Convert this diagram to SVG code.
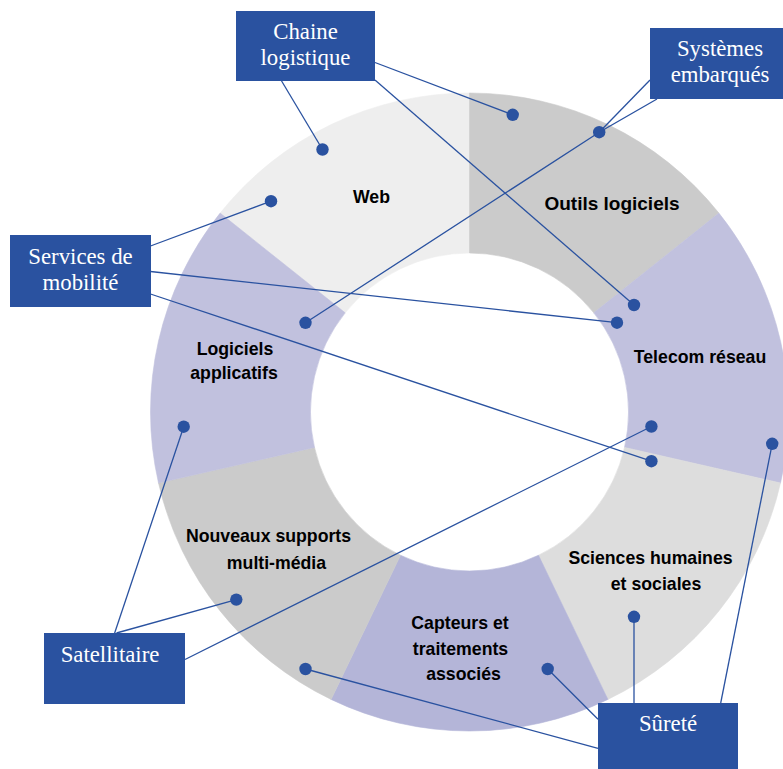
<svg xmlns="http://www.w3.org/2000/svg" width="783" height="769" viewBox="0 0 783 769">
  <style>
    .seg-label { font-family: "Liberation Sans", Arial, sans-serif; font-weight: bold; font-size: 17.7px; fill: #000; text-anchor: middle; }
    .box { fill: #2a52a0; }
    .box-label { font-family: "Liberation Serif", "Times New Roman", serif; font-size: 22.8px; fill: #ffffff; text-anchor: middle; }
    .link { stroke: #2a52a0; stroke-width: 1.3; fill: none; }
    .dot { fill: #2a52a0; }
  </style>
  <rect width="783" height="769" fill="#ffffff"/>

  <!-- Ring of seven sectors, centre (469.5,412), outer r 319, inner r 159 -->
  <g id="seg-web">
    <path d="M220.10,213.11 A319,319 0 0 1 469.5,93 L469.5,253 A159,159 0 0 0 345.19,312.87 Z" fill="#eeeeee" stroke="#eeeeee" stroke-width="0.6"/>
    <text class="seg-label" x="371.5" y="203">Web</text>
  </g>
  <g id="seg-outils">
    <path d="M469.5,93 A319,319 0 0 1 718.90,213.11 L593.81,312.87 A159,159 0 0 0 469.5,253 Z" fill="#cbcbcb" stroke="#cbcbcb" stroke-width="0.6"/>
    <text class="seg-label" x="612" y="210" style="font-size:19px">Outils logiciels</text>
  </g>
  <g id="seg-telecom">
    <path d="M718.90,213.11 A319,319 0 0 1 780.50,482.98 L624.51,447.38 A159,159 0 0 0 593.81,312.87 Z" fill="#c1c1de" stroke="#c1c1de" stroke-width="0.6"/>
    <text class="seg-label" x="700" y="363">Telecom réseau</text>
  </g>
  <g id="seg-sciences">
    <path d="M780.50,482.98 A319,319 0 0 1 607.91,699.41 L538.49,555.25 A159,159 0 0 0 624.51,447.38 Z" fill="#dddddd" stroke="#dddddd" stroke-width="0.6"/>
    <text class="seg-label" x="650.5" y="564">Sciences humaines</text>
    <text class="seg-label" x="656" y="590">et sociales</text>
  </g>
  <g id="seg-capteurs">
    <path d="M607.91,699.41 A319,319 0 0 1 331.09,699.41 L400.51,555.25 A159,159 0 0 0 538.49,555.25 Z" fill="#b4b5d8" stroke="#b4b5d8" stroke-width="0.6"/>
    <text class="seg-label" x="460" y="629">Capteurs et</text>
    <text class="seg-label" x="460.5" y="655">traitements</text>
    <text class="seg-label" x="463.5" y="680">associés</text>
  </g>
  <g id="seg-nouveaux">
    <path d="M331.09,699.41 A319,319 0 0 1 158.50,482.98 L314.49,447.38 A159,159 0 0 0 400.51,555.25 Z" fill="#cbcbcb" stroke="#cbcbcb" stroke-width="0.6"/>
    <text class="seg-label" x="268.5" y="542">Nouveaux supports</text>
    <text class="seg-label" x="276.5" y="569">multi-média</text>
  </g>
  <g id="seg-logiciels">
    <path d="M158.50,482.98 A319,319 0 0 1 220.10,213.11 L345.19,312.87 A159,159 0 0 0 314.49,447.38 Z" fill="#c1c1de" stroke="#c1c1de" stroke-width="0.6"/>
    <text class="seg-label" x="235" y="355">Logiciels</text>
    <text class="seg-label" x="234" y="379">applicatifs</text>
  </g>

  <!-- Connectors: thin lines from each label box to dots on the ring -->
  <g id="connectors">
    <!-- Chaine logistique -->
    <line class="link" x1="281" y1="80" x2="322.5" y2="149.5"/>
    <line class="link" x1="375" y1="62.5" x2="512.7" y2="114.8"/>
    <line class="link" x1="375" y1="80" x2="634" y2="305"/>
    <!-- Systèmes embarqués -->
    <line class="link" x1="650" y1="80" x2="599.2" y2="132.2"/>
    <polyline class="link" points="657,99 599.2,132.2 305.5,322.8"/>
    <!-- Services de mobilité -->
    <line class="link" x1="150.5" y1="246" x2="271" y2="201.2"/>
    <line class="link" x1="150.5" y1="271.5" x2="617" y2="322.7"/>
    <line class="link" x1="150.5" y1="294" x2="651.4" y2="461.2"/>
    <!-- Satellitaire -->
    <line class="link" x1="114.5" y1="633.5" x2="183.7" y2="426.7"/>
    <line class="link" x1="116.5" y1="633" x2="236.3" y2="599.6"/>
    <line class="link" x1="185" y1="659.5" x2="651.4" y2="426.5"/>
    <!-- Sûreté -->
    <line class="link" x1="634" y1="703" x2="634" y2="616.8"/>
    <line class="link" x1="720.7" y1="703" x2="772.2" y2="443.8"/>
    <line class="link" x1="598" y1="719.3" x2="547.7" y2="669"/>
    <line class="link" x1="598" y1="748.3" x2="305.5" y2="669"/>

    <circle class="dot" cx="512.7" cy="114.8" r="6.2"/>
    <circle class="dot" cx="322.5" cy="149.5" r="6.2"/>
    <circle class="dot" cx="599.2" cy="132.2" r="6.2"/>
    <circle class="dot" cx="271" cy="201.2" r="6.2"/>
    <circle class="dot" cx="634" cy="305" r="6.2"/>
    <circle class="dot" cx="617" cy="322.7" r="6.2"/>
    <circle class="dot" cx="305.5" cy="322.8" r="6.2"/>
    <circle class="dot" cx="183.7" cy="426.7" r="6.2"/>
    <circle class="dot" cx="651.4" cy="426.5" r="6.2"/>
    <circle class="dot" cx="651.4" cy="461.2" r="6.2"/>
    <circle class="dot" cx="772.2" cy="443.8" r="6.2"/>
    <circle class="dot" cx="236.3" cy="599.6" r="6.2"/>
    <circle class="dot" cx="634" cy="616.8" r="6.2"/>
    <circle class="dot" cx="305.5" cy="669" r="6.2"/>
    <circle class="dot" cx="547.7" cy="669" r="6.2"/>
  </g>

  <!-- Label boxes -->
  <g id="box-chaine">
    <rect class="box" x="236" y="11" width="139" height="70"/>
    <text class="box-label" x="305.5" y="39">Chaine</text>
    <text class="box-label" x="305.5" y="65">logistique</text>
  </g>
  <g id="box-systemes">
    <rect class="box" x="650" y="28" width="140" height="71"/>
    <text class="box-label" x="720" y="56">Systèmes</text>
    <text class="box-label" x="720" y="82">embarqués</text>
  </g>
  <g id="box-services">
    <rect class="box" x="10" y="235" width="141" height="72"/>
    <text class="box-label" x="80.5" y="264">Services de</text>
    <text class="box-label" x="80.5" y="289.5">mobilité</text>
  </g>
  <g id="box-satellitaire">
    <rect class="box" x="44" y="633" width="141" height="71"/>
    <text class="box-label" x="110" y="662">Satellitaire</text>
  </g>
  <g id="box-surete">
    <rect class="box" x="598" y="703" width="140" height="70"/>
    <text class="box-label" x="668" y="731">Sûreté</text>
  </g>
</svg>
